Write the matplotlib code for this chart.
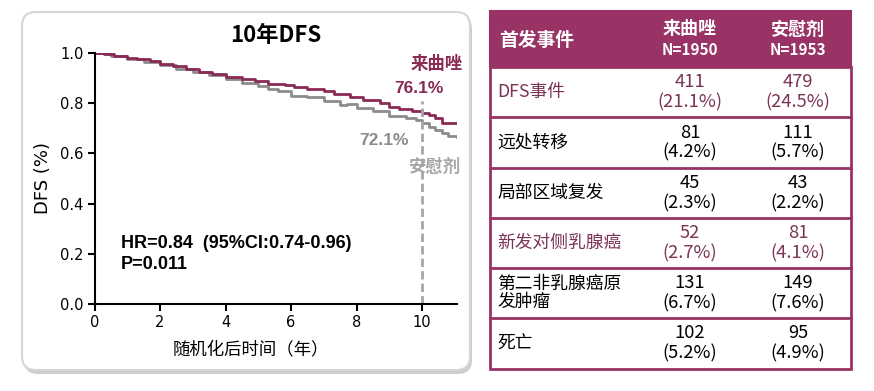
import matplotlib.pyplot as plt
from matplotlib.patches import FancyBboxPatch, Rectangle

CJK = ['Noto Sans CJK SC', 'DejaVu Sans']

# KM curves
let_t = [0, 0.3, 0.6, 1.0, 1.3, 1.7, 2.0, 2.4, 2.8, 3.2, 3.6, 4.0, 4.5, 4.9, 5.3, 5.8, 6.1,
         6.5, 7.0, 7.3, 7.8, 8.2, 8.7, 9.0, 9.3, 9.7, 10.0, 10.2, 10.4, 10.6, 11.05]
let_s = [1.0, 0.995, 0.99, 0.98, 0.975, 0.97, 0.958, 0.948, 0.937, 0.926, 0.915, 0.905, 0.897,
         0.888, 0.878, 0.873, 0.864, 0.855, 0.848, 0.838, 0.826, 0.812, 0.799, 0.785, 0.775,
         0.768, 0.761, 0.752, 0.74, 0.723, 0.723]
pla_t = [0, 0.5, 1.0, 1.5, 2.0, 2.5, 3.0, 3.5, 4.0, 4.5, 5.0, 5.3, 5.6, 6.0, 6.5, 7.0, 7.5,
         7.7, 8.0, 8.5, 9.0, 9.5, 9.8, 10.0, 10.2, 10.4, 10.6, 10.8, 11.05]
pla_s = [1.0, 0.99, 0.975, 0.965, 0.952, 0.938, 0.924, 0.912, 0.898, 0.882, 0.868, 0.855,
         0.847, 0.83, 0.825, 0.808, 0.792, 0.796, 0.782, 0.768, 0.75, 0.74, 0.732, 0.721,
         0.705, 0.692, 0.68, 0.668, 0.665]

header = ['首发事件', '来曲唑\nN=1950', '安慰剂\nN=1953']
events = ['DFS事件', '远处转移', '局部区域复发', '新发对侧乳腺癌', '第二非乳腺癌原\n发肿瘤', '死亡']
let_n = ['411', '81', '45', '52', '131', '102']
let_pct = ['21.1%', '4.2%', '2.3%', '2.7%', '6.7%', '5.2%']
pla_n = ['479', '111', '43', '81', '149', '95']
pla_pct = ['24.5%', '5.7%', '2.2%', '4.1%', '7.6%', '4.9%']
highlight = [True, False, False, True, False, False]

maroon = '#8A2A55'
gray = '#8C8C8C'
hdr = '#993366'

fig = plt.figure(figsize=(8.74, 3.91), dpi=100)

# background layer in pixel coords
bg = fig.add_axes([0, 0, 1, 1], zorder=0)
bg.set_xlim(0, 874)
bg.set_ylim(391, 0)
bg.axis('off')

# rounded panel with shadow
bg.add_patch(FancyBboxPatch((24, 15), 448, 359, boxstyle='round,pad=0,rounding_size=14',
                            facecolor='#B8B8B8', edgecolor='none', alpha=0.7))
bg.add_patch(FancyBboxPatch((22, 12), 448, 358, boxstyle='round,pad=0,rounding_size=14',
                            facecolor='white', edgecolor='#D6D6D6', linewidth=1.5))

# table
tx0, tx1 = 490, 851
rows_y = [11, 67, 117, 168, 218, 268, 318, 369]
col2, col3 = 690, 798
bg.add_patch(Rectangle((tx0, rows_y[0]), tx1 - tx0, rows_y[1] - rows_y[0],
                       facecolor=hdr, edgecolor=hdr, linewidth=1.5))
bg.add_patch(Rectangle((tx0, rows_y[1]), tx1 - tx0, rows_y[-1] - rows_y[1],
                       facecolor='white', edgecolor=hdr, linewidth=2))
for y in rows_y[2:-1]:
    bg.plot([tx0, tx1], [y, y], color=hdr, lw=2)

bg.text(499, 40, header[0], color='white', fontsize=13.5, fontweight='bold',
        family=CJK, va='center', ha='left')
for cx, h in zip([col2, col3], header[1:]):
    name, n = h.split('\n')
    bg.text(cx, 29, name, color='white', fontsize=13, fontweight='bold', family=CJK,
            ha='center', va='center')
    bg.text(cx, 50, n, color='white', fontsize=11, fontweight='bold', family=CJK,
            ha='center', va='center')

for i, ev in enumerate(events):
    yc = (rows_y[i + 1] + rows_y[i + 2]) / 2
    c = '#7B3356' if highlight[i] else 'black'
    bg.text(497, yc, ev, color=c, fontsize=12.8, family=CJK, ha='left', va='center',
            linespacing=1.05)
    bg.text(col2, yc - 10, let_n[i], color=c, fontsize=13.2, family=CJK, ha='center', va='center')
    bg.text(col2, yc + 10, '(' + let_pct[i] + ')', color=c, fontsize=13.2, family=CJK,
            ha='center', va='center')
    bg.text(col3, yc - 10, pla_n[i], color=c, fontsize=13.2, family=CJK, ha='center', va='center')
    bg.text(col3, yc + 10, '(' + pla_pct[i] + ')', color=c, fontsize=13.2, family=CJK,
            ha='center', va='center')

# KM plot
ax = fig.add_axes([94.5 / 874, 87 / 391, 362 / 874, 251 / 391], zorder=1)
ax.patch.set_alpha(0)
ax.plot(pla_t, pla_s, drawstyle='steps-post', color=gray, lw=2)
ax.plot(let_t, let_s, drawstyle='steps-post', color=maroon, lw=2)
ax.plot([10, 10], [0, 0.81], color='#A6A6A6', lw=2, ls=(0, (3, 1.5)))
ax.set_xlim(0, 11.05)
ax.set_ylim(0, 1.0)
ax.set_xticks(range(0, 11, 2))
ax.set_yticks([0, 0.2, 0.4, 0.6, 0.8, 1.0])
ax.set_yticklabels(['0.0', '0.2', '0.4', '0.6', '0.8', '1.0'])
ax.spines['top'].set_visible(False)
ax.spines['right'].set_visible(False)
for s in ['left', 'bottom']:
    ax.spines[s].set_linewidth(1.5)
ax.tick_params(direction='out', length=5, width=1.5, labelsize=10.5, pad=3)
ax.set_ylabel('DFS (%)', fontsize=13, labelpad=6)
ax.set_xlabel('随机化后时间（年）', fontsize=12.5, family=CJK, labelpad=5)
ax.xaxis.set_label_coords((251 - 94.5) / 362, -0.145)

ax.set_title('10年DFS', fontsize=16, fontweight='bold', family=CJK, pad=8)
ax.text(0.8, 0.2, 'HR=0.84  (95%CI:0.74-0.96)\nP=0.011', fontsize=13,
        fontweight='bold', family='Liberation Sans', va='center', ha='left', linespacing=1.3)

ax.text(10.45, 0.955, '来曲唑', color=maroon, fontsize=12.5, fontweight='bold', family=CJK,
        ha='center', va='center', clip_on=False)
ax.text(9.9, 0.86, '76.1%', color=maroon, fontsize=12.5, fontweight='bold',
        family='Liberation Sans', ha='center', va='center', clip_on=False)
ax.text(8.84, 0.653, '72.1%', color=gray, fontsize=12.5, fontweight='bold',
        family='Liberation Sans', ha='center', va='center', clip_on=False)
ax.text(10.38, 0.545, '安慰剂', color='#A6A6A6', fontsize=12.5, fontweight='bold', family=CJK,
        ha='center', va='center', clip_on=False)

fig.savefig('out.png', dpi=100)
